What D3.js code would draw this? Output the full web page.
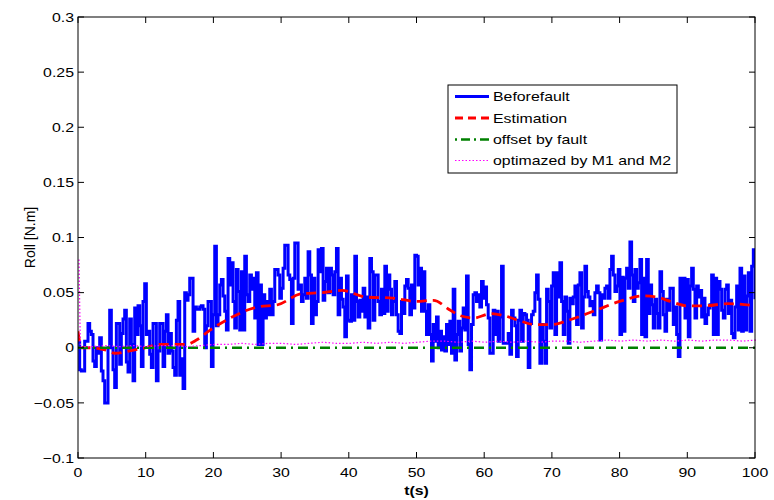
<!DOCTYPE html>
<html><head><meta charset="utf-8">
<script src="https://cdn.jsdelivr.net/npm/d3@7"></script>
<style>body{margin:0;background:#fff}svg{display:block}text{font-family:"Liberation Sans",Arial,sans-serif}</style>
</head><body><svg id="c" width="774" height="500"></svg>
<script>
// ---- data ----
const xTicks = [0,10,20,30,40,50,60,70,80,90,100];
const yTicks = [-0.1,-0.05,0,0.05,0.1,0.15,0.2,0.25,0.3];
const yTickLabels = ["\u22120.1","\u22120.05","0","0.05","0.1","0.15","0.2","0.25","0.3"];
const seriesNames = ["Beforefault","Estimation","offset by fault","optimazed by M1 and M2"];
// Beforefault: uniformly sampled over 0..100 s
const beforefault = [
0.005,-0.02,-0.021,-0.021,0.006,0.006,0.022,0.015,0.012,-0.012,-0.017,0.0,-0.005,0.009,-0.021,-0.03,-0.05,-0.05,0.0,0.034,
0.0,-0.02,-0.036,0.022,0.022,-0.015,0.013,0.026,0.034,-0.013,-0.022,0.026,0.003,-0.03,0.036,0.012,0.038,0.02,-0.017,0.042,
0.058,0.012,0.015,-0.006,-0.018,0.022,0.022,-0.03,-0.003,0.022,0.022,-0.017,0.015,0.03,-0.005,0.013,-0.003,-0.018,-0.025,0.025,
0.042,-0.025,-0.01,-0.037,0.05,0.043,0.048,0.063,0.063,0.015,0.037,0.035,0.035,0.037,0.038,0.035,0.0,0.02,0.042,0.042,
-0.017,0.03,0.092,0.02,0.03,0.057,0.062,0.047,0.033,0.016,0.081,0.057,0.077,0.042,0.018,0.071,0.051,0.016,0.069,0.016,
0.083,0.048,0.042,0.066,0.053,0.063,0.027,0.068,0.003,0.057,0.003,0.048,0.027,0.042,0.03,0.053,0.03,0.042,0.071,0.071,
0.066,0.045,0.054,0.072,0.093,0.093,0.066,0.062,0.022,0.063,0.095,0.095,0.053,0.057,0.042,0.048,0.063,0.045,0.087,0.066,
0.022,0.063,0.03,0.042,0.089,0.069,0.09,0.043,0.06,0.072,0.05,0.072,0.066,0.048,0.069,0.09,0.03,0.063,0.044,0.037,
0.01,0.065,
0.025,0.024,0.048,0.025,0.083,0.042,0.028,0.043,0.033,0.054,0.028,0.046,0.018,0.081,0.069,0.025,0.066,0.066,0.042,0.03,
0.053,0.031,0.074,0.033,0.066,0.053,0.03,0.042,0.06,0.03,0.015,0.013,0.042,0.031,0.056,0.062,0.054,0.03,0.057,0.036,
0.084,0.083,0.057,0.072,0.033,0.069,0.033,0.012,0.039,0.012,-0.012,0.021,0.006,0.028,0.0,0.015,-0.002,0.01,-0.003,0.021,
0.003,0.024,-0.005,0.053,-0.011,0.012,0.024,-0.003,0.018,0.036,0.016,0.065,0.003,-0.02,0.021,0.048,0.05,0.042,0.048,0.037,
0.06,0.045,
0.055,0.039,0.027,-0.005,-0.005,0.034,0.012,0.033,0.006,0.028,0.074,0.004,0.004,0.004,0.013,-0.006,0.034,0.027,0.02,-0.008,
0.025,0.034,0.006,0.031,0.03,0.025,-0.018,0.022,0.03,0.033,0.05,0.066,0.044,-0.014,0.021,0.006,-0.014,0.053,0.042,0.018,
0.056,0.068,0.012,0.068,0.046,0.077,0.042,0.012,0.046,0.033,0.004,0.045,0.04,0.046,0.056,0.021,0.057,0.068,0.018,0.046,
0.074,0.051,0.046,0.038,0.042,0.03,0.05,0.056,0.05,0.007,0.048,0.045,0.054,0.056,0.045,0.071,0.083,0.066,0.051,0.056,
0.071,0.012,
0.064,0.015,0.063,0.072,0.054,0.096,0.066,0.042,0.071,0.054,0.059,0.08,0.012,0.063,0.01,0.08,0.031,0.057,0.039,0.018,
0.044,0.031,0.018,0.069,0.051,0.03,0.015,0.044,0.034,0.054,0.054,0.021,0.037,0.012,-0.008,0.063,0.039,0.063,0.027,0.062,
0.01,0.056,0.072,0.053,0.027,0.056,0.046,0.052,0.028,0.045,0.022,0.03,0.036,0.039,0.066,0.012,0.063,0.012,0.06,0.053,
0.034,0.027,0.053,0.057,0.031,0.043,0.013,0.009,0.037,0.056,0.016,0.072,0.015,0.065,0.016,0.047,0.068,0.015,0.074,0.089,
0.044
];
// Estimation
const estT = [0,0.5,2,4,5.5,7.5,10,12,14,16,17.5,19.5,22.5,26.5,29.5,33,36,39,42.5,46.5,50,52.5,55,56.5,58.5,61,63,65,67.5,70,72.5,76.5,80,83.5,85.5,87.5,90,92.5,96,100];
const estV = [0.015,0.0,0.0,-0.002,-0.005,-0.003,0.0,0.003,0.003,0.003,0.007,0.016,0.027,0.037,0.039,0.049,0.05,0.052,0.046,0.045,0.042,0.043,0.034,0.029,0.027,0.031,0.029,0.025,0.021,0.021,0.025,0.034,0.042,0.047,0.046,0.042,0.038,0.038,0.04,0.038];
// offset by fault
const offT = [0,100];
const offV = [0,0];
// optimazed by M1 and M2
const optT = [0,0.2,2,4,6,8,10,12,14,16,18,20,22,24,26,28,30,32,34,36,38,40,42,44,46,48,50,52,54,56,58,60,62,64,66,68,70,72,74,76,78,80,82,84,86,88,90,92,94,96,98,100];
const optV = [0.08,0.001,0.001,0.002,0.001,0.002,0.001,0.002,0.002,0.001,0.002,0.003,0.003,0.004,0.003,0.004,0.004,0.003,0.004,0.005,0.004,0.004,0.005,0.004,0.005,0.004,0.005,0.006,0.006,0.005,0.006,0.005,0.006,0.005,0.006,0.005,0.006,0.006,0.005,0.006,0.007,0.006,0.007,0.006,0.007,0.006,0.007,0.006,0.007,0.007,0.006,0.007];

// ---- layout ----
const W=774,H=500, m={l:78,r:19,t:17,b:42};
const SX=1.22; // horizontal glyph stretch seen in the reference
const svg=d3.select("#c");
const x=d3.scaleLinear().domain([0,100]).range([m.l,W-m.r]);
const y=d3.scaleLinear().domain([-0.1,0.3]).range([H-m.b,m.t]);
const N=beforefault.length;
const tOf=i=>i*100/(N-1);

svg.append("clipPath").attr("id","clp").append("rect")
  .attr("x",m.l).attr("y",m.t).attr("width",W-m.l-m.r).attr("height",H-m.t-m.b);
const g=svg.append("g").attr("clip-path","url(#clp)");

g.append("path").datum(beforefault)
  .attr("d",d3.line().x((d,i)=>x(tOf(i))).y(d=>y(d)).curve(d3.curveStepAfter))
  .attr("fill","none").attr("stroke","#0000ff").attr("stroke-width",3).attr("stroke-linejoin","miter");

const pairs=(T,V)=>T.map((t,i)=>[t,V[i]]);
g.append("path").datum(pairs(estT,estV))
  .attr("d",d3.line().x(d=>x(d[0])).y(d=>y(d[1])).curve(d3.curveMonotoneX))
  .attr("fill","none").attr("stroke","#ff0000").attr("stroke-width",2.8).attr("stroke-dasharray","10,6");

g.append("path").datum(pairs(offT,offV))
  .attr("d",d3.line().x(d=>x(d[0])).y(d=>y(d[1])))
  .attr("fill","none").attr("stroke","#008000").attr("stroke-width",2.4).attr("stroke-dasharray","10,5,2,5");

svg.append("path").datum(pairs(optT,optV))
  .attr("d",d3.line().x(d=>x(d[0])).y(d=>y(d[1])))
  .attr("fill","none").attr("stroke","#ff00ff").attr("stroke-width",1.2).attr("stroke-dasharray","1.5,2")
  .attr("transform","translate(1,0)");

// ---- axes ----
const fs=13;
const txt=(sel,px,py,anchor,size,str,bold)=>{
  const t=sel.append("text").attr("transform",`translate(${px},${py}) scale(${SX},1)`)
    .attr("text-anchor",anchor).attr("font-size",size).text(str);
  if(bold) t.attr("font-weight","bold");
  return t;
};
const ax=svg.append("g");
ax.append("rect").attr("x",m.l).attr("y",m.t).attr("width",W-m.l-m.r).attr("height",H-m.t-m.b)
  .attr("fill","none").attr("stroke","#000").attr("stroke-width",1);
const tl=6;
xTicks.forEach(t=>{
  ax.append("line").attr("x1",x(t)).attr("x2",x(t)).attr("y1",H-m.b).attr("y2",H-m.b-tl).attr("stroke","#000");
  ax.append("line").attr("x1",x(t)).attr("x2",x(t)).attr("y1",m.t).attr("y2",m.t+tl).attr("stroke","#000");
  txt(ax,x(t),H-m.b+19,"middle",fs,t);
});
yTicks.forEach((t,i)=>{
  ax.append("line").attr("x1",m.l).attr("x2",m.l+tl).attr("y1",y(t)).attr("y2",y(t)).attr("stroke","#000");
  ax.append("line").attr("x1",W-m.r).attr("x2",W-m.r-tl).attr("y1",y(t)).attr("y2",y(t)).attr("stroke","#000");
  txt(ax,m.l-4,y(t)+4.7,"end",fs,yTickLabels[i]);
});
txt(ax,(m.l+W-m.r)/2,H-5,"middle",13,"t(s)",true);
ax.append("text").attr("transform",`translate(35,${(m.t+H-m.b)/2}) rotate(-90)`).attr("text-anchor","middle")
  .attr("font-size",14).text("Roll [N.m]");

// ---- legend ----
const lg=svg.append("g");
lg.append("rect").attr("x",448).attr("y",85).attr("width",229).attr("height",88).attr("fill","#fff").attr("stroke","#000").attr("stroke-width",1);
const styles=[
  {c:"#0000ff",w:2.8,d:null},
  {c:"#ff0000",w:2.8,d:"8,5"},
  {c:"#008000",w:2.4,d:"2,4,9,4"},
  {c:"#ff00ff",w:1.2,d:"1.5,2"}];
const rowY=[96.5,118,139.5,160.5];
seriesNames.forEach((n,i)=>{
  const s=styles[i];
  const ln=lg.append("line").attr("x1",455).attr("x2",489).attr("y1",rowY[i]).attr("y2",rowY[i])
    .attr("stroke",s.c).attr("stroke-width",s.w);
  if(s.d) ln.attr("stroke-dasharray",s.d);
  txt(lg,493,rowY[i]+4.7,"start",13,n);
});
</script></body></html>
